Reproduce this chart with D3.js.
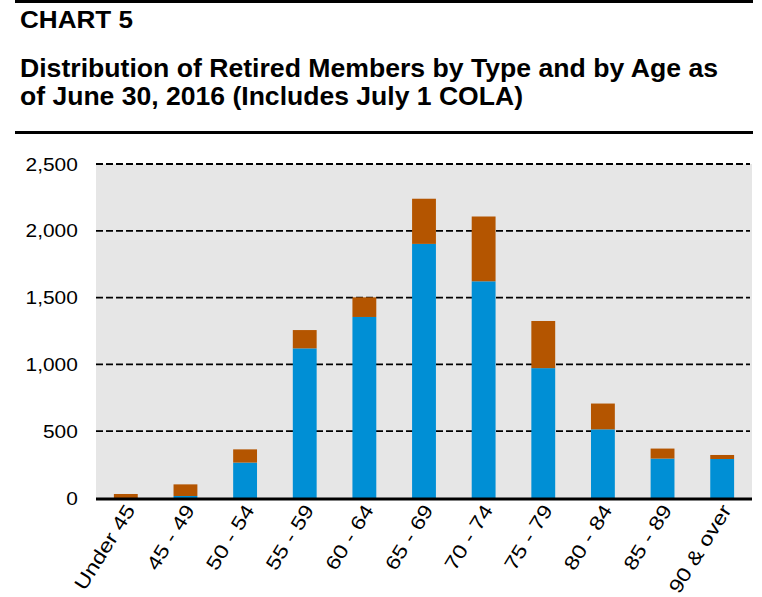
<!DOCTYPE html>
<html>
<head>
<meta charset="utf-8">
<script src="https://cdn.jsdelivr.net/npm/d3@7"></script>
<style>
  html, body { margin: 0; padding: 0; background: #ffffff; }
  svg { display: block; font-family: "Liberation Sans", Arial, sans-serif; }
</style>
</head>
<body>
<svg id="chart" width="762" height="597"></svg>
<script>
// ---- Data ----
const categories = ["Under 45", "45 - 49", "50 - 54", "55 - 59", "60 - 64", "65 - 69",
                    "70 - 74", "75 - 79", "80 - 84", "85 - 89", "90 & over"];
const seriesNames = ["Service", "Other"];
const serviceValues = [0, 15, 265, 1120, 1355, 1902, 1622, 972, 514, 295, 292];
const otherValues   = [30, 87, 99, 137, 147, 338, 485, 353, 193, 75, 30];
const yTicks = [0, 500, 1000, 1500, 2000, 2500];
const chartLabel = "CHART 5";
const titleLines = ["Distribution of Retired Members by Type and by Age as",
                    "of June 30, 2016 (Includes July 1 COLA)"];

const colors = { Service: "#008fd5", Other: "#b45500" };

const svg = d3.select("#chart");

// ---- Header ----
svg.append("rect").attr("x", 15).attr("y", 0).attr("width", 738).attr("height", 3).attr("fill", "#000");
svg.append("text").attr("x", 20).attr("y", 28)
  .attr("font-size", 23).attr("font-weight", "bold")
  .attr("textLength", 113).attr("lengthAdjust", "spacingAndGlyphs")
  .text(chartLabel);
svg.append("text").attr("x", 20).attr("y", 77)
  .attr("font-size", 25).attr("font-weight", "bold")
  .attr("textLength", 698).attr("lengthAdjust", "spacingAndGlyphs")
  .text(titleLines[0]);
svg.append("text").attr("x", 20).attr("y", 105)
  .attr("font-size", 25).attr("font-weight", "bold")
  .attr("textLength", 503).attr("lengthAdjust", "spacingAndGlyphs")
  .text(titleLines[1]);
svg.append("rect").attr("x", 15).attr("y", 131).attr("width", 738).attr("height", 3).attr("fill", "#000");

// ---- Scales ----
const pLeft = 96, pRight = 752, pTop = 164, pBottom = 498;
const x = d3.scaleBand().domain(categories).range([pLeft, pRight]).paddingInner(0.6).paddingOuter(0.3);
const y = d3.scaleLinear().domain([0, 2500]).range([pBottom, pTop]);

// plot background
svg.append("rect").attr("x", pLeft).attr("y", pTop).attr("width", pRight - pLeft).attr("height", pBottom - pTop)
  .attr("fill", "#e6e6e6");

// gridlines
svg.append("g").selectAll("line").data(yTicks.filter(d => d > 0)).join("line")
  .attr("x1", pLeft).attr("x2", pRight - 2)
  .attr("y1", d => y(d)).attr("y2", d => y(d))
  .attr("stroke", "#000").attr("stroke-width", 1.8).attr("stroke-dasharray", "7,3");

// stacked bars
const table = categories.map((c, i) => ({ cat: c, Service: serviceValues[i], Other: otherValues[i] }));
const stack = d3.stack().keys(seriesNames)(table);
svg.append("g").selectAll("g").data(stack).join("g")
  .attr("fill", d => colors[d.key])
  .selectAll("rect").data(d => d).join("rect")
  .attr("x", d => x(d.data.cat))
  .attr("width", x.bandwidth())
  .attr("y", d => y(d[1]))
  .attr("height", d => Math.max(0, y(d[0]) - y(d[1])));

// baseline
svg.append("line").attr("x1", pLeft).attr("x2", pRight).attr("y1", pBottom + 1).attr("y2", pBottom + 1)
  .attr("stroke", "#000").attr("stroke-width", 3);

// y axis
const yAxis = svg.append("g").attr("transform", `translate(${pLeft},0)`)
  .call(d3.axisLeft(y).tickValues(yTicks).tickFormat(d3.format(",")).tickSize(0).tickPadding(18));
yAxis.select(".domain").remove();
yAxis.selectAll("text").attr("font-size", 19).attr("fill", "#000")
  .attr("font-family", "'Liberation Sans', Arial, sans-serif")
  .attr("transform", "scale(1.1,1)").attr("x", -16.5);

// x axis
const xAxis = svg.append("g").attr("transform", `translate(0,${pBottom})`)
  .call(d3.axisBottom(x).tickSize(0).tickPadding(0));
xAxis.select(".domain").remove();
xAxis.selectAll("text")
  .attr("font-size", 19.5).attr("fill", "#000")
  .attr("font-family", "'Liberation Sans', Arial, sans-serif")
  .attr("text-anchor", "end")
  .attr("dy", "0")
  .attr("y", 0)
  .attr("transform", "translate(10,12) rotate(-58) scale(1.2,1)");
</script>
</body>
</html>
